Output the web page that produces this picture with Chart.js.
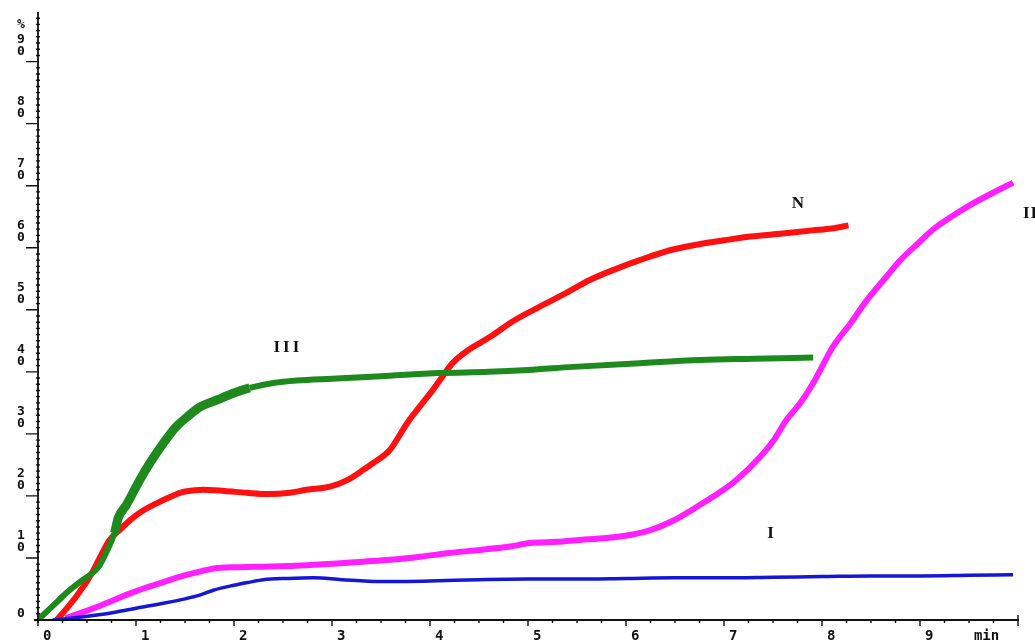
<!DOCTYPE html>
<html>
<head>
<meta charset="utf-8">
<script src="https://cdn.jsdelivr.net/npm/chart.js@4.4.1/dist/chart.umd.min.js"></script>
<style>
  html, body { margin: 0; padding: 0; background: #fff; }
  #wrap { width: 1035px; height: 641px; position: relative; }
</style>
</head>
<body>
<div id="wrap"><canvas id="chKinetics"></canvas></div>
<script>
// release curves, time in min, value in %
const greenT = [0, 0.1, 0.2, 0.3, 0.46, 0.55, 0.62, 0.7, 0.78, 0.82, 0.9, 1.04, 1.15, 1.28, 1.4, 1.52, 1.65, 1.83, 2.0, 2.16, 2.4, 2.64, 3.0, 3.5, 4.1, 4.6, 5.0, 5.46, 6.14, 6.76, 7.3, 7.91];
const greenV = [0, 1.5, 3, 4.5, 6.5, 7.5, 8.6, 11, 14, 16.5, 18.5, 22.6, 25.5, 28.5, 31, 32.7, 34.3, 35.5, 36.6, 37.4, 38.2, 38.6, 38.9, 39.3, 39.8, 40.0, 40.3, 40.8, 41.4, 41.9, 42.1, 42.3];

const redT = [0.19, 0.3, 0.4, 0.53, 0.63, 0.73, 0.84, 0.94, 1.05, 1.21, 1.33, 1.45, 1.6, 1.68, 1.9, 2.13, 2.35, 2.57, 2.74, 2.98, 3.15, 3.32, 3.42, 3.59, 3.77, 3.9, 4.03, 4.13, 4.23, 4.4, 4.61, 4.85, 5.12, 5.4, 5.63, 5.9, 6.14, 6.45, 6.76, 7.0, 7.27, 7.6, 7.9, 8.1, 8.27];
const redV = [0, 2, 4, 7, 10, 12.9, 14.6, 16.1, 17.4, 18.8, 19.7, 20.5, 20.9, 21, 20.8, 20.5, 20.3, 20.5, 21, 21.5, 22.5, 24.2, 25.3, 27.4, 31.8, 34.5, 37.1, 39.3, 41.4, 43.6, 45.6, 48.2, 50.5, 52.8, 54.8, 56.6, 58, 59.6, 60.6, 61.2, 61.8, 62.3, 62.8, 63.1, 63.6];

const magentaT = [0.28, 0.43, 0.6, 0.8, 0.94, 1.1, 1.28, 1.45, 1.65, 1.83, 2.05, 2.3, 2.55, 2.81, 3.05, 3.32, 3.59, 3.9, 4.2, 4.51, 4.8, 5.02, 5.3, 5.53, 5.8, 6.04, 6.25, 6.48, 6.79, 6.95, 7.13, 7.37, 7.5, 7.64, 7.78, 7.91, 8.11, 8.3, 8.46, 8.65, 8.8, 9.0, 9.13, 9.3, 9.48, 9.7, 9.95];
const magentaV = [0.3, 1.1, 2.1, 3.4, 4.3, 5.2, 6.1, 7.0, 7.8, 8.4, 8.5, 8.6, 8.7, 8.9, 9.1, 9.4, 9.7, 10.2, 10.8, 11.3, 11.8, 12.4, 12.6, 12.9, 13.2, 13.7, 14.5, 16.0, 18.9, 20.5, 22.6, 26.3, 28.8, 32.3, 35.0, 38.2, 44, 48, 51.6, 55.2, 58, 61, 62.9, 64.8, 66.6, 68.5, 70.5];

const blueT = [0.15, 0.4, 0.6, 0.8, 1.0, 1.28, 1.5, 1.65, 1.79, 2.0, 2.16, 2.3, 2.55, 2.81, 3.1, 3.49, 4.0, 4.5, 5.0, 5.5, 6.0, 6.5, 7.0, 7.5, 8.0, 8.5, 9.0, 9.5, 9.95];
const blueV = [0, 0.4, 0.8, 1.3, 1.9, 2.7, 3.4, 4.0, 4.8, 5.6, 6.1, 6.5, 6.7, 6.8, 6.5, 6.2, 6.3, 6.5, 6.6, 6.6, 6.7, 6.8, 6.8, 6.9, 7.0, 7.1, 7.1, 7.2, 7.3];

// axis ticks
const xTicks = [0, 1, 2, 3, 4, 5, 6, 7, 8, 9];
const yTicks = [0, 10, 20, 30, 40, 50, 60, 70, 80, 90];

// curve names
const curveNames = ['III', 'N', 'II', 'I'];
const curveNameT = [2.55, 7.76, 10.05, 7.48];
const curveNameV = [43.9, 67.1, 65.5, 14.0];

const pts = (t, v) => t.map((x, i) => ({ x: x, y: v[i] }));

const axisFont = 'bold 14px "DejaVu Sans Mono", monospace';

// hand-drawn axes like the old instrument printout
const printoutAxes = {
    id: 'printoutAxes',
    afterDraw(chart) {
        const ctx = chart.ctx;
        const xs = chart.scales.x, ys = chart.scales.y;
        const x0 = xs.getPixelForValue(0), x10 = xs.getPixelForValue(10);
        const y0 = ys.getPixelForValue(0), yTop = ys.getPixelForValue(ys.max);
        ctx.save();
        ctx.strokeStyle = '#111';
        ctx.fillStyle = '#111';
        ctx.lineWidth = 1.8;

        // axis lines
        ctx.beginPath();
        ctx.moveTo(x0, yTop); ctx.lineTo(x0, y0 + 3);
        ctx.moveTo(x0 - 4, y0); ctx.lineTo(x10 + 1, y0);
        ctx.stroke();

        // x ticks
        ctx.lineWidth = 1.4;
        ctx.beginPath();
        for (let q = 0; q <= 40; q++) {
            const px = xs.getPixelForValue(q / 4);
            const len = q % 4 === 0 ? 6 : 3;
            ctx.moveTo(px, y0); ctx.lineTo(px, y0 + len);
        }
        ctx.moveTo(x10, y0); ctx.lineTo(x10, y0 - 5);
        ctx.stroke();

        // y ticks
        ctx.beginPath();
        for (let v = 1; v <= 97; v++) {
            const py = ys.getPixelForValue(v);
            if (v % 10 === 0) {
                ctx.moveTo(x0 - 12, py); ctx.lineTo(x0 + 1, py);
            } else {
                ctx.moveTo(x0 - 2, py); ctx.lineTo(x0 + 2, py);
            }
        }
        ctx.stroke();

        ctx.font = axisFont;
        ctx.textBaseline = 'alphabetic';
        ctx.textAlign = 'left';
        xTicks.forEach(t => {
            ctx.fillText(String(t), xs.getPixelForValue(t) + 5, y0 + 20);
        });
        ctx.fillText('min', xs.getPixelForValue(9.55), y0 + 20);

        ctx.font = 'bold 13px "DejaVu Sans Mono", monospace';
        ctx.textAlign = 'center';
        yTicks.forEach(v => {
            const py = ys.getPixelForValue(v);
            if (v === 0) {
                ctx.fillText('0', x0 - 17, py - 3);
                return;
            }
            const s = String(v);
            ctx.fillText(s[0], x0 - 17, py - 19);
            ctx.fillText(s[1], x0 - 17, py - 7);
        });
        ctx.fillText('%', x0 - 17, ys.getPixelForValue(95.5));

        // curve names
        ctx.font = 'bold 17px "Liberation Serif", serif';
        ctx.textBaseline = 'middle';
        curveNames.forEach((name, i) => {
            ctx.letterSpacing = name === 'III' ? '3px' : '1px';
            ctx.textAlign = name === 'II' ? 'left' : 'center';
            ctx.fillText(name, xs.getPixelForValue(curveNameT[i]), ys.getPixelForValue(curveNameV[i]));
        });
        ctx.restore();
    }
};

const ctx = document.getElementById('chKinetics');
new Chart(ctx.getContext('2d'), {
    type: 'scatter',
    data: {
        datasets: [
            {
                label: 'I',
                data: pts(blueT, blueV),
                showLine: true,
                borderColor: '#1616d8',
                borderWidth: 3.5,
                pointRadius: 0,
                cubicInterpolationMode: 'monotone'
            },
            {
                label: 'III',
                data: pts(greenT, greenV),
                showLine: true,
                borderColor: '#1e8a1e',
                borderWidth: 6,
                pointRadius: 0,
                cubicInterpolationMode: 'monotone',
                segment: {
                    borderWidth: c => c.p0.parsed.x < 2.1 && c.p0.parsed.x > 0.75 ? 9 : 6
                }
            },
            {
                label: 'II',
                data: pts(magentaT, magentaV),
                showLine: true,
                borderColor: '#ff1fff',
                borderWidth: 6,
                pointRadius: 0,
                cubicInterpolationMode: 'monotone'
            },
            {
                label: 'N',
                data: pts(redT, redV),
                showLine: true,
                borderColor: '#ff1010',
                borderWidth: 6,
                pointRadius: 0,
                cubicInterpolationMode: 'monotone'
            }
        ]
    },
    options: {
        responsive: true,
        maintainAspectRatio: false,
        animation: false,
        layout: { padding: { left: 38, right: 17, top: 12, bottom: 21 } },
        scales: {
            x: { type: 'linear', min: 0, max: 10, display: false },
            y: { type: 'linear', min: 0, max: 98, display: false }
        },
        plugins: {
            legend: { display: false },
            tooltip: { enabled: false }
        }
    },
    plugins: [printoutAxes]
});
</script>
</body>
</html>
